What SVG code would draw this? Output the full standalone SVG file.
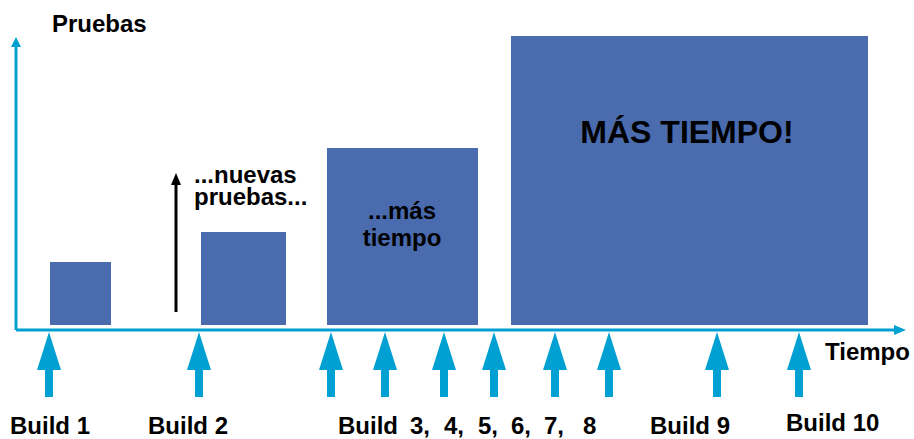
<svg xmlns="http://www.w3.org/2000/svg" width="914" height="439" viewBox="0 0 914 439">
<style>
.bar{fill:#4A6BAE}
.t{font-family:"Liberation Sans",Arial,sans-serif;font-weight:bold;fill:#000;font-size:24px}
.ax{stroke:#00A0D2;stroke-width:3;fill:none}
.ba{fill:#00A0D2}
</style>
<defs>
<polygon id="barrow" points="0,0 12,38 4,38 4,65 -4,65 -4,38 -12,38" class="ba"/>
</defs>
<rect width="914" height="439" fill="#fff"/>
<g id="bars">
<g id="bar1"><rect class="bar" x="50" y="262" width="61" height="63"/></g>
<g id="bar2"><rect class="bar" x="201" y="232" width="85" height="93"/></g>
<g id="bar3"><rect class="bar" x="327" y="148" width="151" height="177"/>
<text class="t" text-anchor="middle"><tspan x="402" y="219">...más</tspan><tspan x="402" y="246">tiempo</tspan></text></g>
<g id="bar4"><rect class="bar" x="511" y="36" width="357" height="289"/>
<text class="t" x="687" y="143" text-anchor="middle" style="font-size:32px">MÁS TIEMPO!</text></g>
</g>
<g id="connectors">
<path class="ax" d="M16,330 V44 M16,330 H894"/>
<polygon class="ba" points="16,37 21,47 11,47"/>
<polygon class="ba" points="906,330 894,325 894,335"/>
<line x1="176" y1="312" x2="176" y2="182" stroke="#000" stroke-width="3"/>
<polygon points="176,173 181,185 171,185" fill="#000"/>
<use href="#barrow" x="49" y="332"/>
<use href="#barrow" x="199" y="332"/>
<use href="#barrow" x="331" y="332"/>
<use href="#barrow" x="385" y="332"/>
<use href="#barrow" x="444" y="332"/>
<use href="#barrow" x="494" y="332"/>
<use href="#barrow" x="555" y="332"/>
<use href="#barrow" x="609" y="332"/>
<use href="#barrow" x="717" y="332"/>
<use href="#barrow" x="799" y="332"/>
</g>
<g id="labels">
<text class="t" x="52" y="32">Pruebas</text>
<text class="t" x="825" y="360">Tiempo</text>
<text class="t"><tspan x="194" y="183">...nuevas</tspan><tspan x="194" y="205">pruebas...</tspan></text>
<text class="t" x="10" y="434">Build 1</text>
<text class="t" x="148" y="434">Build 2</text>
<text class="t" y="434"><tspan x="338">Build</tspan><tspan x="410">3,</tspan><tspan x="444">4,</tspan><tspan x="478">5,</tspan><tspan x="511">6,</tspan><tspan x="544">7,</tspan><tspan x="583">8</tspan></text>
<text class="t" x="650" y="434">Build 9</text>
<text class="t" x="786" y="431">Build 10</text>
</g>
</svg>
